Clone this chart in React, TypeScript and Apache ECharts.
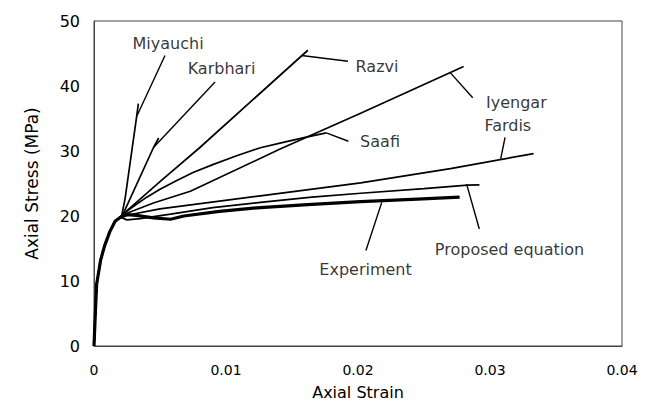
import React, { useEffect, useRef } from "react";
import * as echarts from "echarts";

const xTicks = [0, 0.01, 0.02, 0.03, 0.04];
const yTicks = [0, 10, 20, 30, 40, 50];

// common initial rise
const rise: number[][] = [
  [0, 0], [0.0001, 5], [0.0002, 9.5], [0.0005, 13.2], [0.0008, 15.4],
  [0.0012, 17.6], [0.0016, 19.2], [0.002, 19.8],
];

const experiment: number[][] = [
  [0.0025, 20.2], [0.0032, 20.1], [0.0045, 19.7], [0.0058, 19.5], [0.0068, 20.0],
  [0.0095, 20.7], [0.0126, 21.3], [0.0165, 21.8], [0.0202, 22.2], [0.0245, 22.6], [0.0277, 22.9],
];
const proposed: number[][] = [
  [0.0025, 19.4], [0.0035, 19.6], [0.0058, 20.3], [0.009, 21.3], [0.0126, 22.1],
  [0.0165, 22.9], [0.0202, 23.5], [0.025, 24.2], [0.0283, 24.75], [0.0292, 24.8],
];
const fardis: number[][] = [
  [0.0022, 20.0], [0.005, 21.1], [0.0126, 23.1], [0.0202, 25.1], [0.027, 27.3], [0.0333, 29.6],
];
const iyengar: number[][] = [
  [0.0022, 20.2], [0.0045, 22.0], [0.0073, 23.8], [0.0141, 30.3], [0.0202, 35.8], [0.028, 43.0],
];
const saafi: number[][] = [
  [0.0022, 20.3], [0.003, 21.5], [0.004, 22.9], [0.005, 24.1], [0.0062, 25.4],
  [0.0075, 26.7], [0.009, 27.9], [0.0107, 29.2], [0.0126, 30.5], [0.0145, 31.4],
  [0.016, 32.1], [0.0176, 32.8],
];
const razvi: number[][] = [[0.0022, 20.3], [0.005, 25.3], [0.008, 30.5], [0.0162, 45.5]];
const karbhari: number[][] = [[0.0022, 20.3], [0.0045, 30.5], [0.0049, 32.0]];
const miyauchi: number[][] = [[0.0021, 20.1], [0.00235, 22.6], [0.00323, 35.3], [0.00336, 37.3]];

// annotation labels: name, label centre, leader start, leader end
const labelNames = ["Miyauchi", "Karbhari", "Razvi", "Iyengar", "Fardis", "Saafi", "Proposed equation", "Experiment"];
const labelPos: number[][] = [
  [0.00561, 46.5], [0.00966, 42.7], [0.02144, 43.0], [0.032, 37.5],
  [0.03135, 33.9], [0.02167, 31.5], [0.03148, 14.8], [0.02057, 11.7],
];
const leaderFrom: number[][] = [
  [0.00323, 35.3], [0.00449, 30.5], [0.01573, 44.7], [0.02697, 42.1],
  [0.03114, 32.1], [0.0176, 32.8], [0.02823, 24.9], [0.0218, 22.1],
];
const leaderTo: number[][] = [
  [0.00538, 44.7], [0.00917, 40.6], [0.01924, 43.8], [0.02869, 38.2],
  [0.03081, 28.8], [0.01927, 31.5], [0.02919, 18.0], [0.0206, 14.7],
];

const FONT = "DejaVu Sans";

export default function App() {
  const ref = useRef<HTMLDivElement>(null);
  useEffect(() => {
    if (!ref.current) return;
    const chart = echarts.init(ref.current, undefined, { renderer: "svg" });
    const curve = (name: string, pts: number[][], width: number) => ({
      name,
      type: "line",
      data: rise.concat(pts),
      showSymbol: false,
      symbol: "none",
      smooth: false,
      lineStyle: { color: "#000", width },
      z: width > 2 ? 4 : 3,
    });
    chart.setOption({
      animation: false,
      backgroundColor: "#fff",
      grid: {
        left: 94, right: 29, top: 21, bottom: 57,
        show: true, borderColor: "#444", borderWidth: 1, backgroundColor: "transparent",
      },
      xAxis: {
        type: "value", min: xTicks[0], max: xTicks[xTicks.length - 1], interval: 0.01,
        name: "Axial Strain", nameLocation: "middle", nameGap: 38,
        nameTextStyle: { fontFamily: FONT, fontSize: 16, color: "#000" },
        axisLine: { show: true, lineStyle: { color: "#444", width: 1 } },
        axisTick: { show: false },
        splitLine: { show: false },
        axisLabel: { fontFamily: FONT, fontSize: 14, color: "#000", margin: 17 },
      },
      yAxis: {
        type: "value", min: yTicks[0], max: yTicks[yTicks.length - 1], interval: 10,
        name: "Axial Stress (MPa)", nameLocation: "middle", nameGap: 54,
        nameTextStyle: { fontFamily: FONT, fontSize: 17, color: "#000" },
        axisLine: { show: true, lineStyle: { color: "#444", width: 1 } },
        axisTick: { show: false },
        splitLine: { show: false },
        axisLabel: { fontFamily: FONT, fontSize: 16, color: "#000", margin: 14 },
      },
      series: [
        curve("Miyauchi", miyauchi, 1.7),
        curve("Karbhari", karbhari, 1.7),
        curve("Razvi", razvi, 1.7),
        curve("Iyengar", iyengar, 1.7),
        curve("Saafi", saafi, 1.7),
        curve("Fardis", fardis, 1.7),
        curve("Proposed equation", proposed, 1.7),
        curve("Experiment", experiment, 3.2),
        {
          name: "leaders",
          type: "lines",
          coordinateSystem: "cartesian2d",
          polyline: false,
          lineStyle: { color: "#000", width: 1.4, opacity: 1 },
          data: leaderFrom.map((p, i) => ({ coords: [p, leaderTo[i]] })),
          z: 5,
        },
        {
          name: "labels",
          type: "scatter",
          symbolSize: 0,
          data: labelNames.map((n, i) => ({ name: n, value: labelPos[i] })),
          label: {
            show: true, position: "inside", formatter: "{b}",
            fontFamily: FONT, fontSize: 16, color: "#000",
          },
          z: 6,
        },
      ],
    });
    return () => chart.dispose();
  }, []);
  return (
    <div
      ref={ref}
      style={{ position: "absolute", left: 0, top: 0, width: 651, height: 405, background: "#fff" }}
    />
  );
}
